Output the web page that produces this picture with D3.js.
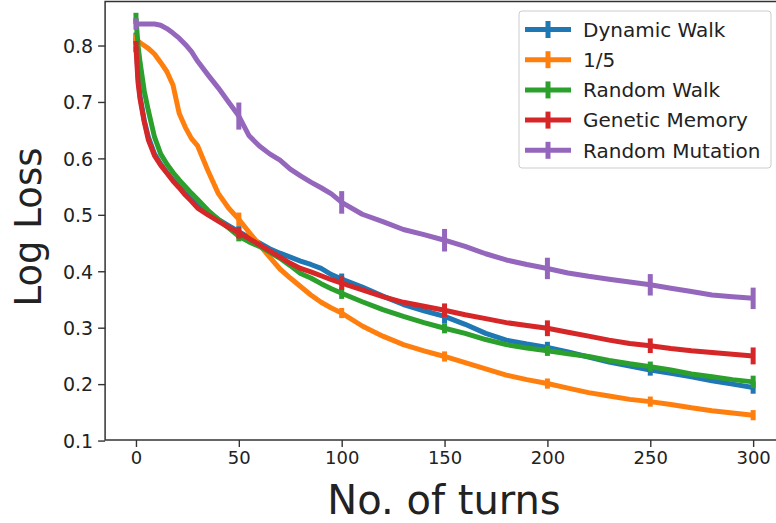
<!DOCTYPE html>
<html><head><meta charset="utf-8">
<script src="https://cdn.jsdelivr.net/npm/d3@7"></script>
<style>
html,body{margin:0;padding:0;background:#fff;overflow:hidden}
text{font-family:"DejaVu Sans",sans-serif;fill:#222}
</style></head>
<body><svg id="chart" width="776" height="523"></svg>
<script>
const turns = [0,1,2,4,6,9,12,15,18,21,24,27,30,35,40,45,50,55,60,65,70,75,80,85,90,95,100,110,120,130,140,150,160,170,180,190,200,210,220,230,240,250,260,270,280,290,300];
const seriesNames = ["Dynamic Walk","1/5","Random Walk","Genetic Memory","Random Mutation"];
const seriesColors = ["#1f77b4","#ff7f0e","#2ca02c","#d62728","#9467bd"];
const dynamicWalk = [0.813,0.745,0.71,0.668,0.638,0.608,0.590,0.575,0.562,0.550,0.538,0.527,0.518,0.505,0.492,0.481,0.470,0.460,0.450,0.440,0.432,0.425,0.418,0.412,0.405,0.394,0.386,0.372,0.356,0.341,0.330,0.320,0.306,0.290,0.278,0.271,0.265,0.257,0.248,0.239,0.232,0.225,0.219,0.213,0.206,0.200,0.194];
const oneFifth = [0.810,0.808,0.805,0.800,0.795,0.785,0.770,0.754,0.730,0.680,0.655,0.635,0.622,0.578,0.538,0.512,0.492,0.469,0.447,0.425,0.404,0.388,0.373,0.358,0.345,0.335,0.326,0.303,0.285,0.270,0.259,0.249,0.238,0.227,0.216,0.208,0.201,0.193,0.185,0.179,0.173,0.169,0.164,0.158,0.153,0.149,0.145];
const randomWalk = [0.848,0.800,0.770,0.720,0.685,0.638,0.608,0.590,0.575,0.562,0.550,0.538,0.527,0.508,0.492,0.477,0.462,0.452,0.444,0.434,0.423,0.410,0.396,0.388,0.378,0.369,0.361,0.346,0.332,0.320,0.309,0.299,0.290,0.279,0.270,0.264,0.259,0.254,0.249,0.242,0.236,0.231,0.225,0.218,0.213,0.208,0.204];
const geneticMemory = [0.798,0.735,0.705,0.665,0.633,0.605,0.588,0.574,0.560,0.548,0.535,0.524,0.512,0.500,0.489,0.478,0.468,0.458,0.447,0.436,0.425,0.414,0.405,0.399,0.392,0.385,0.379,0.367,0.355,0.345,0.338,0.331,0.323,0.316,0.309,0.304,0.299,0.292,0.285,0.278,0.272,0.268,0.263,0.259,0.256,0.253,0.250];
const randomMutation = [0.838,0.838,0.838,0.838,0.838,0.838,0.836,0.830,0.822,0.813,0.802,0.789,0.772,0.748,0.725,0.700,0.675,0.640,0.622,0.608,0.597,0.581,0.569,0.558,0.548,0.537,0.522,0.501,0.488,0.474,0.465,0.455,0.444,0.431,0.420,0.412,0.405,0.397,0.391,0.386,0.381,0.376,0.370,0.364,0.358,0.355,0.352];
const errTurns = [0,50,100,150,200,250,300];
const errDynamicWalk = [0.010,0.010,0.010,0.012,0.010,0.010,0.011];
const errOneFifth = [0.010,0.012,0.009,0.009,0.009,0.009,0.009];
const errRandomWalk = [0.010,0.009,0.010,0.009,0.009,0.009,0.011];
const errGeneticMemory = [0.010,0.010,0.012,0.012,0.014,0.013,0.015];
const errRandomMutation = [0.010,0.024,0.020,0.020,0.019,0.019,0.019];
const xTicks = [0,50,100,150,200,250,300];
const yTicks = [0.1,0.2,0.3,0.4,0.5,0.6,0.7,0.8];

const allValues = [dynamicWalk, oneFifth, randomWalk, geneticMemory, randomMutation];
const allErrs = [errDynamicWalk, errOneFifth, errRandomWalk, errGeneticMemory, errRandomMutation];

const svg = d3.select("#chart");
const x = d3.scaleLinear().domain([-15,315]).range([105.1,784]);
const y = d3.scaleLinear().domain([0.101,0.878]).range([440,1.5]);

const xAxis = svg.append("g").attr("transform","translate(0,440)")
  .call(d3.axisBottom(x).tickValues(xTicks).tickFormat(d3.format("d")).tickSize(7).tickSizeOuter(0));
const yAxis = svg.append("g").attr("transform","translate(105.1,0)")
  .call(d3.axisLeft(y).tickValues(yTicks).tickFormat(d3.format(".1f")).tickSize(7).tickSizeOuter(0));
[xAxis,yAxis].forEach(a=>{
  a.select(".domain").remove();
  a.selectAll(".tick line").attr("stroke","#333").attr("stroke-width",1.4);
  a.selectAll(".tick text").attr("font-family","DejaVu Sans").attr("fill","#222");
});
xAxis.selectAll(".tick text").attr("font-size",18).attr("y",11).attr("dy","0.71em");
yAxis.selectAll(".tick text").attr("font-size",19).attr("x",-12).attr("dy","0.36em");

svg.append("rect").attr("x",105.1).attr("y",1.5).attr("width",784-105.1).attr("height",440-1.5)
  .attr("fill","none").attr("stroke","#333").attr("stroke-width",1.5);

const line = d3.line().x((d,i)=>x(turns[i])).y(d=>y(d));
const g = svg.append("g");
allValues.forEach((vals,si)=>{
  g.append("path").datum(vals).attr("d",line).attr("fill","none")
    .attr("stroke",seriesColors[si]).attr("stroke-width",5).attr("stroke-linejoin","round").attr("stroke-linecap","butt");
  errTurns.forEach((t,k)=>{
    const v = vals[turns.indexOf(t)];
    const e = allErrs[si][k];
    g.append("line").attr("x1",x(t)).attr("x2",x(t)).attr("y1",y(v-e)).attr("y2",y(v+e))
      .attr("stroke",seriesColors[si]).attr("stroke-width",5);
  });
});

const lg = svg.append("g");
lg.append("rect").attr("x",519).attr("y",11).attr("width",252).attr("height",157).attr("rx",3)
  .attr("fill","white").attr("fill-opacity",0.8).attr("stroke","#ccc").attr("stroke-width",1);
seriesNames.forEach((name,i)=>{
  const cy = 29.5 + i*30.2;
  lg.append("line").attr("x1",525).attr("x2",571).attr("y1",cy).attr("y2",cy).attr("stroke",seriesColors[i]).attr("stroke-width",5);
  lg.append("line").attr("x1",548).attr("x2",548).attr("y1",cy-8.5).attr("y2",cy+8.5).attr("stroke",seriesColors[i]).attr("stroke-width",5);
  lg.append("text").attr("x",583).attr("y",cy).attr("dy","0.36em").attr("font-size",20).text(name);
});

svg.append("text").attr("x",444).attr("y",514).attr("text-anchor","middle").attr("font-size",40).attr("fill","#000").text("No. of turns");
svg.append("text").attr("transform","translate(40.7,227) rotate(-90)").attr("text-anchor","middle").attr("font-size",37).attr("fill","#000").text("Log Loss");
</script></body></html>
